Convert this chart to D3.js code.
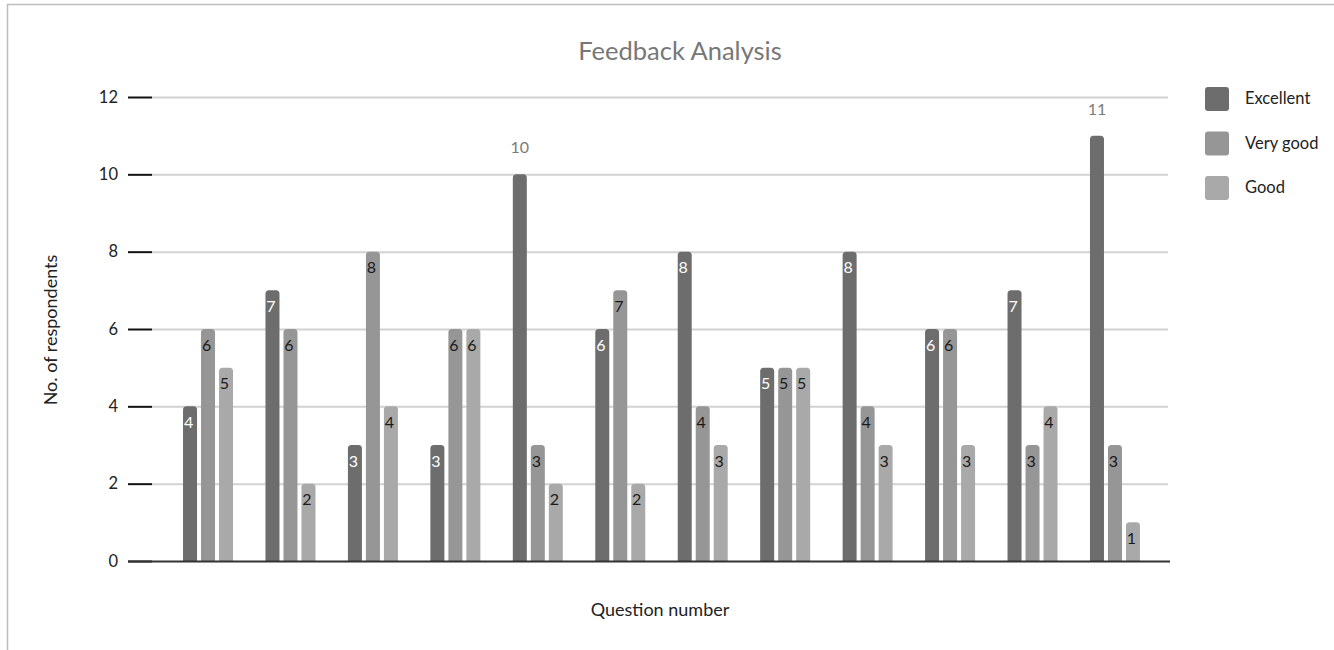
<!DOCTYPE html>
<html>
<head>
<meta charset="utf-8">
<script src="https://cdn.jsdelivr.net/npm/d3@7"></script>
<style>
  html, body { margin: 0; padding: 0; background: #fff; }
  svg { display: block; font-family: Lato, "Open Sans", sans-serif; }
</style>
</head>
<body>
<svg id="chart" width="1334" height="650"></svg>
<script>
const questions = ["Q1","Q2","Q3","Q4","Q5","Q6","Q7","Q8","Q9","Q10","Q11","Q12"];
const seriesNames = ["Excellent", "Very good", "Good"];
const excellent = [4, 7, 3, 3, 10, 6, 8, 5, 8, 6, 7, 11];
const veryGood  = [6, 6, 8, 6, 3, 7, 4, 5, 4, 6, 3, 3];
const good      = [5, 2, 4, 6, 2, 2, 3, 5, 3, 3, 4, 1];
const yTicks = [0, 2, 4, 6, 8, 10, 12];
const colors = ["#6d6d6d", "#969696", "#a9a9a9"];
const labelColors = ["#ffffff", "#1a1a1a", "#1a1a1a"];

const seriesValues = [excellent, veryGood, good];
const svg = d3.select("#chart");

// border
svg.append("path").attr("d", "M7.5,650 L7.5,4.5 L1334,4.5")
  .attr("fill", "none").attr("stroke", "#bdbdbd").attr("stroke-width", 1.5);

const y = d3.scaleLinear().domain([0, 12]).range([561, 97]);
const x0 = d3.scaleBand().domain(questions).range([166.8, 1156.2]).padding(0);
const x1 = d3.scaleBand().domain(seriesNames).range([0, 50]).paddingInner(0.222);
const gridLeft = 152, gridRight = 1168;

// gridlines
const grid = svg.append("g").attr("transform", `translate(${gridLeft},0)`)
  .call(d3.axisLeft(y).tickValues(yTicks.filter(t => t > 0)).tickSize(-(gridRight - gridLeft)).tickFormat(""));
grid.select(".domain").remove();
grid.selectAll("line").attr("stroke", "#d2d2d2").attr("stroke-width", 2);

// tick marks + labels
const yAxis = svg.append("g").attr("transform", `translate(${gridLeft},0)`)
  .call(d3.axisLeft(y).tickValues(yTicks).tickSize(24).tickPadding(10).tickFormat(d3.format("d")));
yAxis.select(".domain").remove();
yAxis.selectAll("line").attr("stroke", "#111").attr("stroke-width", 2);
yAxis.selectAll("text").attr("font-size", 16.5).attr("fill", "#222")
  .attr("font-family", "Lato, 'Open Sans', sans-serif");

// bars
const groups = svg.append("g").selectAll("g").data(questions).join("g")
  .attr("transform", d => `translate(${x0(d) + x0.bandwidth() / 2 - 25},0)`);

groups.each(function(q, qi) {
  const g = d3.select(this);
  seriesNames.forEach((s, si) => {
    const v = seriesValues[si][qi];
    const bx = x1(s), bw = x1.bandwidth();
    const top = y(v), bot = y(0);
    const r = 3.5;
    g.append("path")
      .attr("d", `M${bx},${bot} L${bx},${top + r} Q${bx},${top} ${bx + r},${top} L${bx + bw - r},${top} Q${bx + bw},${top} ${bx + bw},${top + r} L${bx + bw},${bot} Z`)
      .attr("fill", colors[si]);
    if (v >= 10) {
      g.append("text").attr("x", bx + bw / 2).attr("y", top - 21)
        .attr("text-anchor", "middle").attr("font-size", 16).attr("fill", "#7a7a7a")
        .text(v);
    } else {
      g.append("text").attr("x", bx + bw / 2 - 1.5).attr("y", top + 21.5)
        .attr("text-anchor", "middle").attr("font-size", 16).attr("fill", labelColors[si])
        .text(v);
    }
  });
});

// baseline
svg.append("line").attr("x1", 128).attr("x2", 1170).attr("y1", y(0) + 0.5).attr("y2", y(0) + 0.5)
  .attr("stroke", "#333").attr("stroke-width", 2);

// title
svg.append("text").attr("x", 680).attr("y", 60).attr("text-anchor", "middle")
  .attr("font-size", 25.5).attr("fill", "#777").text("Feedback Analysis");

// axis titles
svg.append("text").attr("transform", "translate(57,330) rotate(-90)")
  .attr("text-anchor", "middle").attr("font-size", 18).attr("fill", "#222").text("No. of respondents");
svg.append("text").attr("x", 660).attr("y", 616).attr("text-anchor", "middle")
  .attr("font-size", 18).attr("fill", "#222").text("Question number");

// legend
const legend = svg.append("g").selectAll("g").data(seriesNames).join("g")
  .attr("transform", (d, i) => `translate(1205,${87 + i * 44.5})`);
legend.append("rect").attr("width", 24).attr("height", 24).attr("rx", 3)
  .attr("fill", (d, i) => colors[i]);
legend.append("text").attr("x", 40).attr("y", 17).attr("font-size", 16.5).attr("fill", "#222")
  .text(d => d);
</script>
</body>
</html>
